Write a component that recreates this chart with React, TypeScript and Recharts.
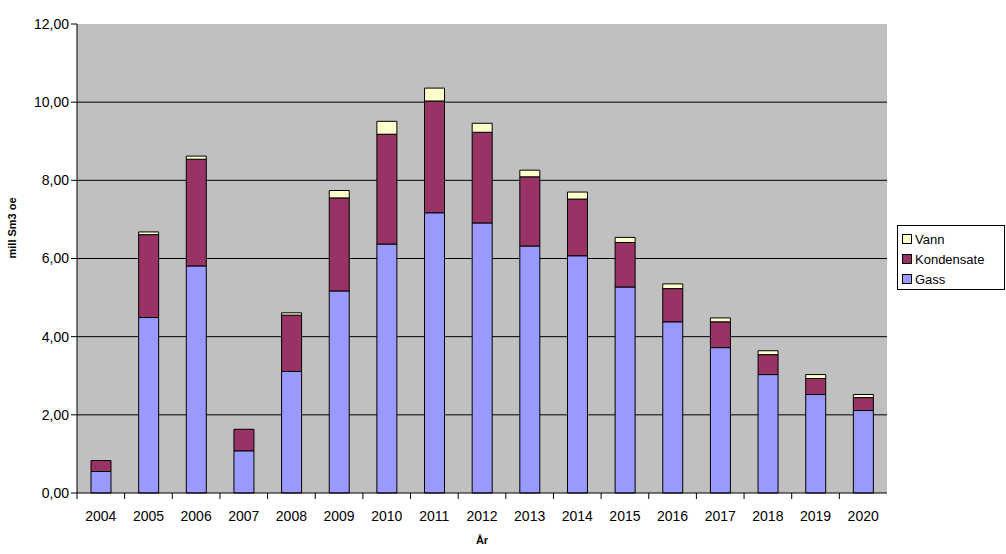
import { BarChart, Bar, XAxis, YAxis, CartesianGrid } from "recharts";

const years = ["2004", "2005", "2006", "2007", "2008", "2009", "2010", "2011", "2012", "2013", "2014", "2015", "2016", "2017", "2018", "2019", "2020"];
const gass = [0.55, 4.49, 5.81, 1.08, 3.11, 5.17, 6.37, 7.17, 6.91, 6.32, 6.07, 5.27, 4.38, 3.72, 3.03, 2.52, 2.11];
const kondensat = [0.28, 2.12, 2.73, 0.55, 1.44, 2.38, 2.81, 2.86, 2.32, 1.77, 1.45, 1.14, 0.85, 0.66, 0.51, 0.41, 0.33];
const vann = [0, 0.07, 0.08, 0, 0.06, 0.19, 0.33, 0.33, 0.23, 0.17, 0.18, 0.13, 0.12, 0.1, 0.1, 0.1, 0.08];
const yTicks = [0, 2, 4, 6, 8, 10, 12];
const gridValues = [2, 4, 6, 8, 10];

const data = years.map((year, i) => ({
  year,
  Gass: gass[i],
  Kondensate: kondensat[i],
  Vann: vann[i],
}));

const FONT = "'Liberation Sans', Arial, sans-serif";

const legendItems = [
  { name: "Vann", color: "#ffffcc" },
  { name: "Kondensate", color: "#993366" },
  { name: "Gass", color: "#9999ff" },
];

// category ticks sit between bars, like the old Excel charts
const XTick = (props: any) => {
  const { x, y, payload } = props;
  const half = payload.offset ?? 0;
  return (
    <g>
      <line x1={x - half} y1={y - 8} x2={x - half} y2={y - 2} stroke="#000" />
      <text x={x} y={y + 20} textAnchor="middle" fontSize={14} fontFamily={FONT} fill="#000">
        {payload.value}
      </text>
    </g>
  );
};

const LegendBox = () => (
  <div
    style={{
      position: "absolute",
      left: 897,
      top: 225,
      border: "1px solid #000",
      background: "#fff",
      width: 102,
      height: 58,
      padding: "3px 0 2px 4px",
      fontFamily: FONT,
      fontSize: 13,
      overflow: "hidden",
      whiteSpace: "nowrap",
    }}
  >
    {legendItems.map((it) => (
      <div key={it.name} style={{ display: "flex", alignItems: "center", height: 20 }}>
        <span
          style={{
            display: "inline-block",
            width: 8,
            height: 8,
            background: it.color,
            border: "1px solid #000",
            marginRight: 3,
          }}
        />
        {it.name}
      </div>
    ))}
  </div>
);

export default function App() {
  return (
    <div style={{ position: "absolute", left: 0, top: 0, width: 1006, height: 554, background: "#fff" }}>
      <BarChart
        width={1006}
        height={554}
        data={data}
        margin={{ top: 24, right: 119, bottom: 0, left: 0 }}
        barSize={20}
      >
        <CartesianGrid
          vertical={false}
          stroke="#000"
          fill="#c0c0c0"
          fillOpacity={1}
          horizontalValues={gridValues}
        />
        <XAxis
          dataKey="year"
          height={61}
          tickLine={false}
          axisLine={{ stroke: "#000" }}
          tick={<XTick />}
          interval={0}
          label={{ value: "År", position: "insideBottom", offset: 10, fontSize: 11, fontWeight: "bold", fontFamily: FONT, fill: "#000" }}
        />
        <XAxis xAxisId="top" orientation="top" dataKey="year" height={0} tick={false} tickLine={false} axisLine={{ stroke: "#808080" }} />
        <YAxis
          width={77}
          domain={[0, 12]}
          ticks={yTicks}
          interval={0}
          tickSize={6}
          tickLine={{ stroke: "#000" }}
          axisLine={{ stroke: "#000" }}
          tickFormatter={(v: number) => v.toFixed(2).replace(".", ",")}
          tick={{ fontSize: 14, fontFamily: FONT, fill: "#000" }}
          label={{ value: "mill Sm3 oe", angle: -90, position: "insideLeft", offset: 12, fontSize: 11, fontWeight: "bold", fontFamily: FONT, fill: "#000" }}
        />
        <YAxis yAxisId="right" orientation="right" width={0} tick={false} tickLine={false} axisLine={{ stroke: "#808080" }} />
        <Bar dataKey="Gass" stackId="a" fill="#9999ff" stroke="#000" strokeWidth={1} isAnimationActive={false} />
        <Bar dataKey="Kondensate" stackId="a" fill="#993366" stroke="#000" strokeWidth={1} isAnimationActive={false} />
        <Bar dataKey="Vann" stackId="a" fill="#ffffcc" stroke="#000" strokeWidth={1} isAnimationActive={false} />
      </BarChart>
      <LegendBox />
    </div>
  );
}
